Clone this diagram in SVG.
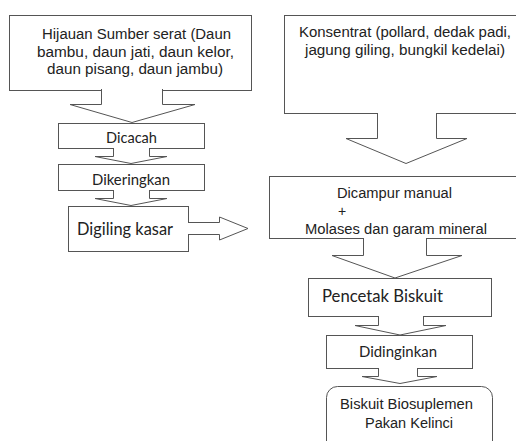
<svg xmlns="http://www.w3.org/2000/svg" width="516" height="441" viewBox="0 0 516 441">
<style>
.box{fill:#fff;stroke:#555;stroke-width:1}
.arr{fill:#fff;stroke:#555;stroke-width:1;stroke-linejoin:miter}
.t{font-family:"Liberation Sans",Arial,sans-serif;font-size:14px;fill:#222}
.c{font-family:Lato,"Open Sans",sans-serif;fill:#222}
</style>
<rect width="516" height="441" fill="#fff"/>
<g id="n-hijauan">
<rect class="box" x="9.5" y="15.5" width="242" height="75"/>
<text class="t" x="42" y="39" textLength="189" lengthAdjust="spacingAndGlyphs">Hijauan Sumber serat (Daun</text>
<text class="t" x="37" y="57" textLength="197" lengthAdjust="spacingAndGlyphs">bambu, daun jati, daun kelor,</text>
<text class="t" x="47" y="74" textLength="176" lengthAdjust="spacingAndGlyphs">daun pisang, daun jambu)</text>
</g>
<g id="n-dicacah">
<rect class="box" x="58.5" y="123.5" width="146" height="25"/>
<text class="c" x="106" y="143" font-size="15" textLength="51" lengthAdjust="spacingAndGlyphs">Dicacah</text>
</g>
<g id="n-dikeringkan">
<rect class="box" x="58.5" y="164.5" width="146" height="26"/>
<text class="c" x="92" y="185" font-size="15" textLength="78" lengthAdjust="spacingAndGlyphs">Dikeringkan</text>
</g>
<g id="n-digiling">
<rect class="box" x="68.5" y="206.5" width="120" height="45"/>
<text class="c" x="77" y="235" font-size="16.5" textLength="96" lengthAdjust="spacingAndGlyphs">Digiling kasar</text>
</g>
<g id="n-konsentrat">
<rect class="box" x="284.5" y="15.5" width="240" height="98"/>
<text class="t" x="299" y="37" textLength="212" lengthAdjust="spacingAndGlyphs">Konsentrat (pollard, dedak padi,</text>
<text class="t" x="305" y="55" textLength="200" lengthAdjust="spacingAndGlyphs">jagung giling, bungkil kedelai)</text>
</g>
<g id="n-dicampur">
<rect class="box" x="269.5" y="176.5" width="255" height="62"/>
<text class="t" x="337" y="198" textLength="115" lengthAdjust="spacingAndGlyphs">Dicampur manual</text>
<text class="t" x="338" y="216" font-size="13">+</text>
<text class="t" x="305" y="234" textLength="182" lengthAdjust="spacingAndGlyphs">Molases dan garam mineral</text>
</g>
<g id="n-pencetak">
<rect class="box" x="308.5" y="278.5" width="183" height="38"/>
<text class="c" x="322" y="302" font-size="17" textLength="121" lengthAdjust="spacingAndGlyphs">Pencetak Biskuit</text>
</g>
<g id="n-didinginkan">
<rect class="box" x="326.5" y="335.5" width="146" height="33"/>
<text class="c" x="359" y="357" font-size="15.5" textLength="78" lengthAdjust="spacingAndGlyphs">Didinginkan</text>
</g>
<g id="n-biskuit">
<rect class="box" x="326.5" y="386.5" width="166" height="70" rx="11" ry="11"/>
<text class="t" x="340" y="409" textLength="133" lengthAdjust="spacingAndGlyphs">Biskuit Biosuplemen</text>
<text class="t" x="365" y="428" textLength="88" lengthAdjust="spacingAndGlyphs">Pakan Kelinci</text>
</g>
<g id="connectors">
<path class="arr" d="M101.5,89 V104.5 H70 L132,122.5 L195,104.5 H162.5 V89"/>
<path class="arr" d="M113.5,148 V156.5 H95 L131,163.5 L167,156.5 H149.5 V148"/>
<path class="arr" d="M113.5,190 V198.5 H95 L131,205.5 L167,198.5 H149.5 V190"/>
<path class="arr" d="M188,222.5 H219.5 V217 L248,228.5 L219.5,240 V234.5 H188"/>
<path class="arr" d="M377.5,113 V138.5 H346 L406,163.5 L467,138.5 H436.5 V113"/>
<path class="arr" d="M363.5,238 V255.5 H332 L395,278 L462,255.5 H426.5 V238"/>
<path class="arr" d="M378.5,316 V325.5 H355 L400,335 L446,325.5 H423.5 V316"/>
<path class="arr" d="M378.5,368 V376.5 H362 L400,383.5 L437,376.5 H417.5 V368"/>
</g>
</svg>
